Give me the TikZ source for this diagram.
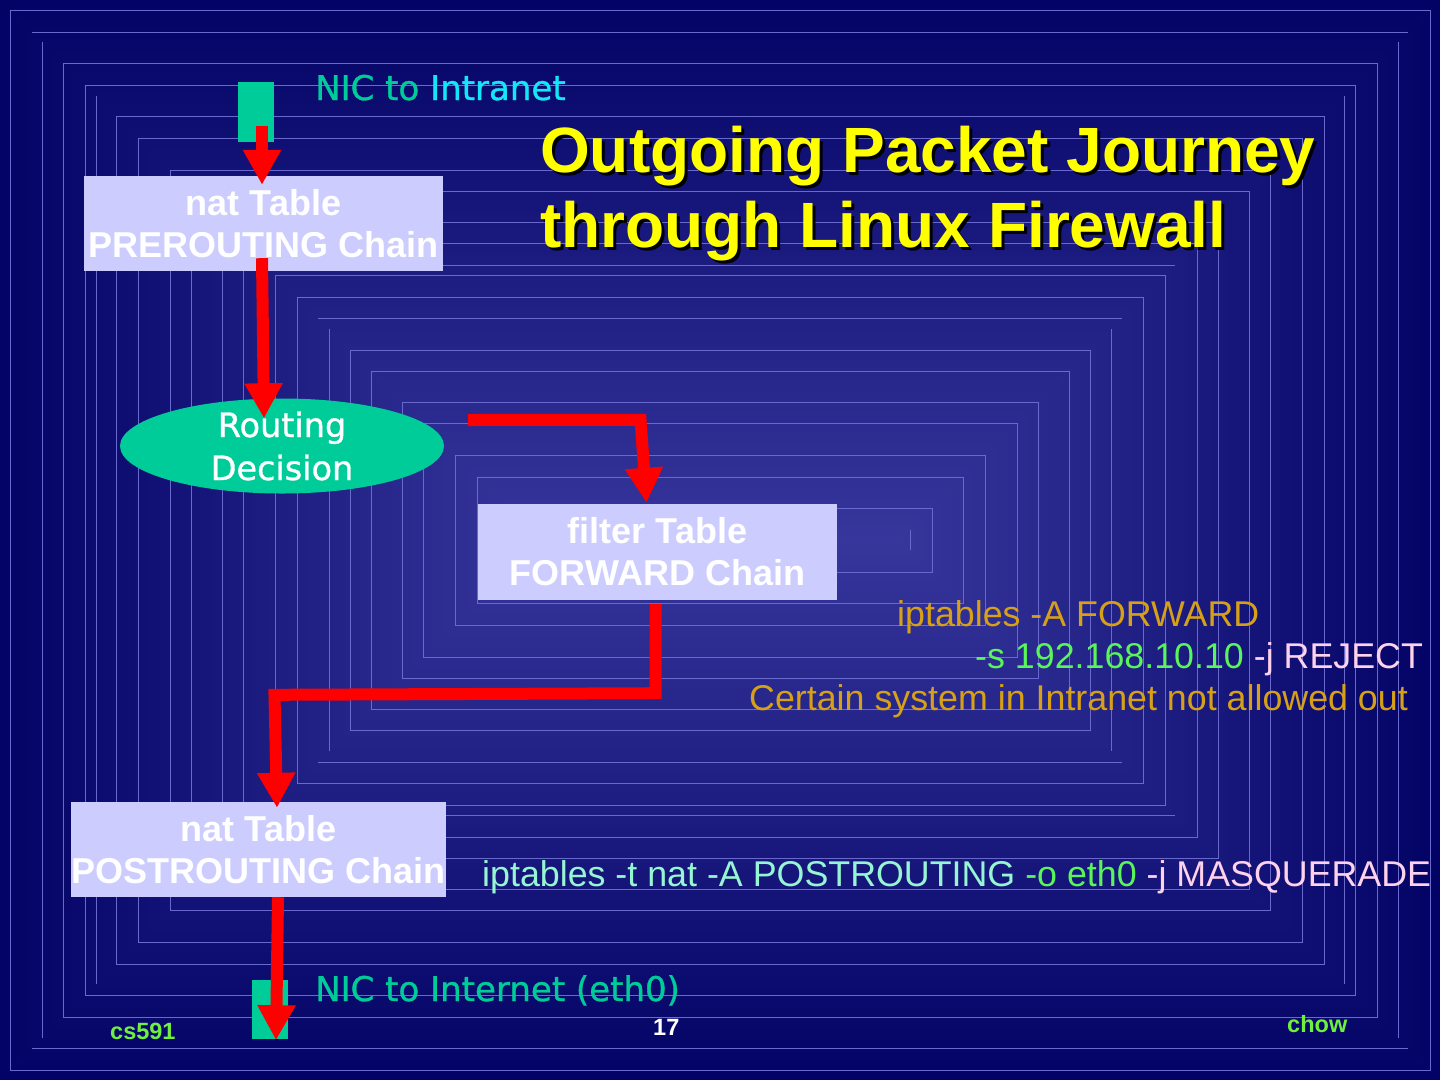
\documentclass[tikz,border=0pt]{standalone}
\usepackage{fontspec}
\setmainfont{Liberation Sans}
\newfontfamily\dvfont[FakeBold=1]{DejaVu Sans}
\usetikzlibrary{arrows.meta,shapes.geometric,calc}
\definecolor{bgout}{RGB}{3,3,102}
\definecolor{bgin}{RGB}{54,54,156}
\definecolor{frm}{RGB}{105,105,205}
\definecolor{tealc}{RGB}{0,204,153}
\definecolor{cyanc}{RGB}{20,230,245}
\definecolor{lav}{RGB}{204,204,255}
\definecolor{ttl}{RGB}{255,255,0}
\definecolor{orng}{RGB}{214,160,24}
\definecolor{grn}{RGB}{90,245,90}
\definecolor{pnk}{RGB}{255,210,235}
\definecolor{aqua}{RGB}{150,245,210}
\definecolor{ftgreen}{RGB}{110,240,60}
\newcommand{\shadowed}[1]{\makebox[0pt][l]{\hspace{3pt}\raisebox{-3pt}{\color{black}#1}}#1}
\begin{document}
\begin{tikzpicture}[x=1pt,y=-1pt,
  frameline/.style={draw=frm, line width=1pt},
  tablebox/.style={fill=lav, text=white, font={\bfseries\fontsize{36}{42}\selectfont}, align=center, inner sep=0pt},
  nicbox/.style={fill=tealc, inner sep=0pt, minimum width=36pt, minimum height=60pt},
  dvtext/.style={font={\dvfont\fontsize{34}{43}\selectfont}, inner sep=0pt, anchor=base west},
  titlefont/.style={font={\bfseries\fontsize{64}{75}\selectfont}, inner sep=0pt, anchor=base west},
  cmdtext/.style={font={\fontsize{35.8}{42}\selectfont}, inner sep=0pt, anchor=base west},
  foot/.style={font={\bfseries\fontsize{23.5}{28}\selectfont}, inner sep=0pt, anchor=base west},
  flow/.style={draw=red, line width=12pt, line join=miter, -{Triangle[width=36pt,length=35pt]}}
]
\useasboundingbox (0,0) rectangle (1440,1080);
% background gradient
\foreach \d in {0,4,...,536} {
  \pgfmathtruncatemacro\p{\d/5.4}
  \fill[bgin!\p!bgout] (\d,\d) rectangle ({1440-\d},{1080-\d});
}
% nested frames
\foreach \d in {10,63,85,116,138,170,191,222,243,275,297,350,371,402,423,455,477,508}
  \draw[frameline] (\d,\d) rectangle ({1440-\d},{1080-\d});
\foreach \d in {32,265,318} {
  \draw[frameline] (\d,\d) -- ({1440-\d},\d);
  \draw[frameline] (\d,{1080-\d}) -- ({1440-\d},{1080-\d});
}
\foreach \d in {42,96,329,530} {
  \draw[frameline] (\d,\d) -- (\d,{1080-\d});
  \draw[frameline] ({1440-\d},\d) -- ({1440-\d},{1080-\d});
}
% nodes
\node[nicbox] (nicin) at (256,112) {};
\node[tablebox, minimum width=359pt, minimum height=95pt] (pre) at (263.5,223.5) {nat Table\\PREROUTING Chain};
\node[ellipse, fill=tealc, minimum width=324pt, minimum height=95pt, inner xsep=0pt, inner ysep=-25pt,
      text=white, font={\dvfont\fontsize{33.5}{43}\selectfont}, align=center] (route) at (282,446) {Routing\\Decision};
\node[tablebox, minimum width=359pt, minimum height=96pt] (filt) at (657.5,552) {filter Table\\FORWARD Chain};
\node[tablebox, minimum width=373pt, minimum height=95pt] (post) at (258.5,849.5) {nat Table\\POSTROUTING Chain};
\node[nicbox, minimum height=59pt] (nicout) at (270,1009.5) {};
% labels
\node[dvtext] (nicinlbl) at (315,100) {\color{tealc}NIC to \color{cyanc}Intranet};
\node[dvtext, text=tealc] (nicoutlbl) at (315,1001) {NIC to Internet (eth0)};
% title (with drop shadow)
\node[titlefont, text=ttl] (t1) at (540,172) {\shadowed{Outgoing Packet Journey}};
\node[titlefont, text=ttl] (t2) at (540,247) {\shadowed{through Linux Firewall}};
% commands
\node[cmdtext, text=orng] (fw1) at (897,626) {iptables -A FORWARD};
\node[cmdtext] (fw2) at (975,668) {\color{grn}-s 192.168.10.10 \color{pnk}-j REJECT};
\node[cmdtext, text=orng] (fw3) at (749,710) {Certain system in Intranet not allowed out};
\node[cmdtext] (masq) at (482,886) {\color{aqua}iptables -t nat -A POSTROUTING \color{grn}-o eth0 \color{pnk}-j MASQUERADE};
% footer
\node[foot, text=ftgreen] (cs) at (110,1039) {cs591};
\node[foot, text=white] (pg) at (653,1035) {17};
\node[foot, text=ftgreen] (chow) at (1287,1032) {chow};
% flow arrows
\draw[flow] ($(nicin.south)+(6,-16)$) -- ($(pre.north)+(-1.5,9)$);
\draw[flow] ($(pre.south)+(-1.5,-13)$) -- ($(route.north)+(-18,20)$);
\draw[flow] ($(route.east)+(24,-26)$) -- ($(filt.north)+(-17,-84)$) -- ($(filt.north)+(-11,-1)$);
\draw[flow] ($(filt.south)+(-2,4)$) -- ($(filt.south)+(-2,93)$) -- ($(post.north)+(16,-107)$) -- ($(post.north)+(18.5,6)$);
\draw[flow] ($(post.south)+(19.5,0)$) -- ($(nicout.south)+(6,1)$);
\end{tikzpicture}
\end{document}
